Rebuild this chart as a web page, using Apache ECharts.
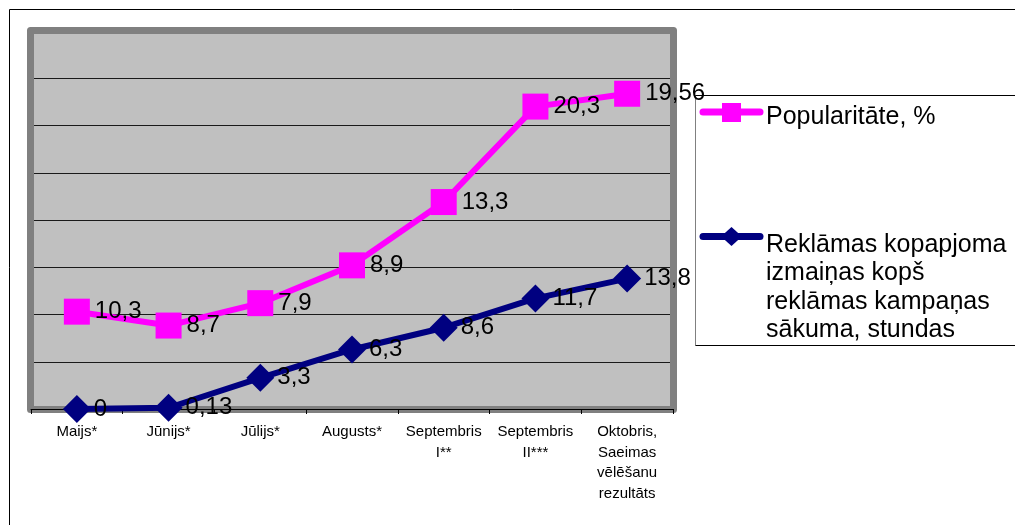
<!DOCTYPE html>
<html>
<head>
<meta charset="utf-8">
<style>
  html, body { margin: 0; padding: 0; background: #ffffff; }
  #chart { width: 1015px; height: 525px; }
</style>
<script src="https://cdn.jsdelivr.net/npm/echarts@6/dist/echarts.min.js"></script>
</head>
<body>
<div id="chart"></div>
<script>
// Months of the campaign
const categories = [
  'Maijs*', 'Jūnijs*', 'Jūlijs*', 'Augusts*',
  'Septembris\nI**', 'Septembris\nII***',
  'Oktobris,\nSaeimas\nvēlēšanu\nrezultāts'
];
// Change in total advertising volume since the start of the campaign, hours
const advertHours = [0, 0.13, 3.3, 6.3, 8.6, 11.7, 13.8];
// Popularity, % (stacked on top of the advertising line)
const popularity = [10.3, 8.7, 7.9, 8.9, 13.3, 20.3, 19.56];

const popularityName = 'Popularitāte, %';
const advertName = 'Reklāmas kopapjoma izmaiņas kopš reklāmas kampaņas sākuma, stundas';

const FONT = '"Liberation Sans", Arial, sans-serif';
const PINK = '#FF00FF';
const NAVY = '#000080';

const commaLabel = p => String(p.value).replace('.', ',');

const chart = echarts.init(document.getElementById('chart'), null, { renderer: 'canvas' });

chart.setOption({
  animation: false,
  backgroundColor: '#ffffff',
  textStyle: { fontFamily: FONT },
  grid: {
    show: true,
    left: 31, top: 31, right: 342, bottom: 116,
    backgroundColor: '#C0C0C0',
    borderWidth: 0
  },
  xAxis: {
    type: 'category',
    z: 2,
    data: categories,
    boundaryGap: true,
    axisLine: { show: true, lineStyle: { color: '#000', width: 1 } },
    axisTick: { show: true, length: 5, lineStyle: { color: '#000' } },
    axisLabel: {
      interval: 0,
      color: '#000',
      fontFamily: FONT,
      fontSize: 15,
      lineHeight: 20.5,
      margin: 13
    },
    splitLine: { show: false }
  },
  yAxis: {
    type: 'value',
    z: 0,
    min: 0,
    max: 40,
    interval: 5,
    axisLine: { show: false },
    axisTick: { show: false },
    axisLabel: { show: false },
    splitLine: { show: true, lineStyle: { color: '#1a1a1a', width: 1 } }
  },
  series: [
    {
      name: advertName,
      type: 'line',
      stack: 'total',
      data: advertHours,
      symbol: 'diamond',
      symbolSize: 28,
      lineStyle: { color: NAVY, width: 6 },
      itemStyle: { color: NAVY },
      label: {
        show: true,
        position: 'right',
        distance: 3,
        color: '#000',
        fontFamily: FONT,
        fontSize: 24,
        formatter: commaLabel
      },
      z: 3
    },
    {
      name: popularityName,
      type: 'line',
      stack: 'total',
      data: popularity,
      symbol: 'rect',
      symbolSize: 26,
      lineStyle: { color: PINK, width: 6 },
      itemStyle: { color: PINK },
      label: {
        show: true,
        position: 'right',
        distance: 5,
        color: '#000',
        fontFamily: FONT,
        fontSize: 24,
        formatter: commaLabel
      },
      z: 3
    }
  ],
  graphic: [
    // plot area frame, above the gridlines and below the series
    {
      type: 'rect',
      z: 1,
      silent: true,
      shape: { x: 30.5, y: 30.5, width: 643, height: 379 },
      style: { fill: null, stroke: '#808080', lineWidth: 7, lineJoin: 'round' }
    },
    // outer chart frame
    {
      type: 'rect',
      z: 100,
      silent: true,
      shape: { x: 9.5, y: 9.5, width: 1200, height: 700 },
      style: { fill: null, stroke: '#000', lineWidth: 1 }
    },
    // legend box
    {
      type: 'group',
      z: 100,
      silent: true,
      children: [
        {
          type: 'rect',
          shape: { x: 695.5, y: 95.5, width: 500, height: 250 },
          style: { fill: '#ffffff', stroke: '#000', lineWidth: 1 }
        },
        {
          type: 'line',
          shape: { x1: 695.5, y1: 96, x2: 695.5, y2: 345.5 },
          style: { stroke: '#808080', lineWidth: 1 }
        },
        {
          type: 'line',
          shape: { x1: 703, y1: 112, x2: 760, y2: 112 },
          style: { stroke: PINK, lineWidth: 7, lineCap: 'round' }
        },
        {
          type: 'rect',
          shape: { x: 722, y: 103, width: 19, height: 19 },
          style: { fill: PINK }
        },
        {
          type: 'text',
          style: {
            x: 766, y: 117,
            text: popularityName,
            font: '25px ' + FONT,
            fill: '#000',
            textVerticalAlign: 'middle'
          }
        },
        {
          type: 'line',
          shape: { x1: 703, y1: 236.5, x2: 760, y2: 236.5 },
          style: { stroke: NAVY, lineWidth: 7, lineCap: 'round' }
        },
        {
          type: 'polygon',
          shape: { points: [[731.5, 227], [742, 236.5], [731.5, 246], [721, 236.5]] },
          style: { fill: NAVY }
        },
        {
          type: 'text',
          style: {
            x: 766, y: 230.5,
            text: 'Reklāmas kopapjoma\nizmaiņas kopš\nreklāmas kampaņas\nsākuma, stundas',
            font: '25px ' + FONT,
            lineHeight: 28.5,
            fill: '#000',
            textVerticalAlign: 'top'
          }
        }
      ]
    }
  ]
});
</script>
</body>
</html>
